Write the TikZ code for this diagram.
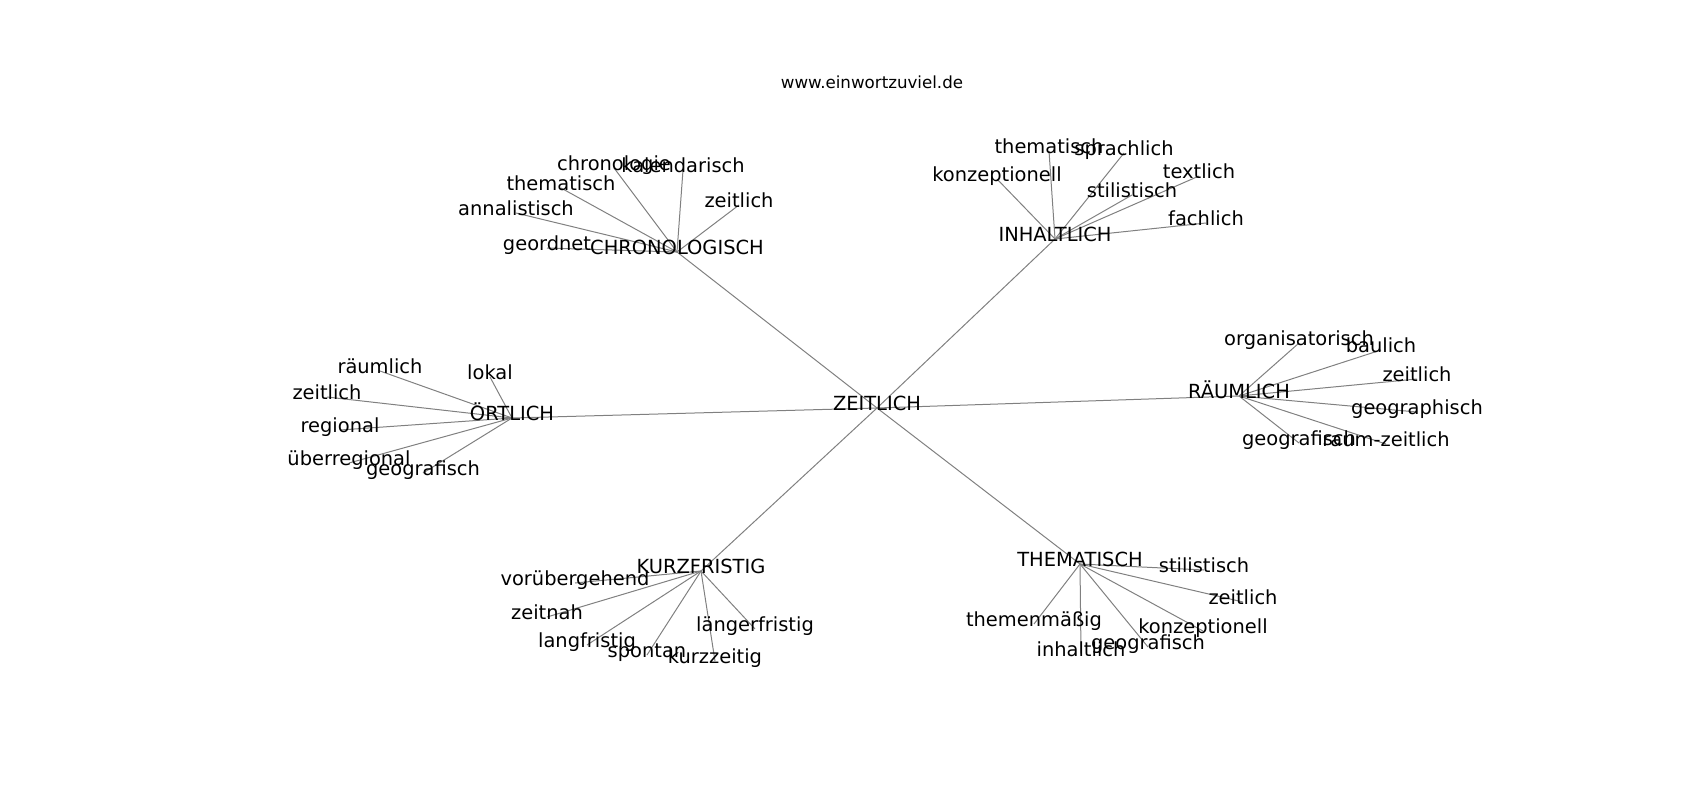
\documentclass[tikz,border=0pt]{standalone}
\usepackage{fontspec}
\setmainfont{DejaVu Sans}
\usetikzlibrary{backgrounds}

\tikzset{
  word/.style={inner sep=0pt, text height=0.76em, text depth=0.21em, font=\fontsize{19.44}{22}\selectfont},
  link/.style={draw=gray, line width=1pt},
}

\begin{document}
\begin{tikzpicture}[x=1pt, y=-1pt]
\useasboundingbox (0,0) rectangle (1700,800);

% title
\node[inner sep=0pt, font=\fontsize{16.67}{19}\selectfont] (title) at (872,82) {www.einwortzuviel.de};

% centre
\node[word] (zeit) at (877,408) {ZEITLICH};

% chronologisch
\node[word] (chr) at (677,252) {CHRONOLOGISCH};
\node[word] (chr1) at (614,168) {chronologie};
\node[word] (chr2) at (683,170) {kalendarisch};
\node[word] (chr3) at (561,188) {thematisch};
\node[word] (chr4) at (739,205) {zeitlich};
\node[word] (chr5) at (516,213) {annalistisch};
\node[word] (chr6) at (547,248) {geordnet};

% inhaltlich
\node[word] (inh) at (1055,239) {INHALTLICH};
\node[word] (inh1) at (1049,151) {thematisch};
\node[word] (inh2) at (1124,153) {sprachlich};
\node[word] (inh3) at (997,179) {konzeptionell};
\node[word] (inh4) at (1199,176) {textlich};
\node[word] (inh5) at (1132,195) {stilistisch};
\node[word] (inh6) at (1206,223) {fachlich};

% oertlich
\node[word] (ort) at (512,418) {ÖRTLICH};
\node[word] (ort1) at (380,371) {räumlich};
\node[word] (ort2) at (490,377) {lokal};
\node[word] (ort3) at (327,397) {zeitlich};
\node[word] (ort4) at (340,430) {regional};
\node[word] (ort5) at (349,463) {überregional};
\node[word] (ort6) at (423,473) {geografisch};

% raeumlich
\node[word] (rau) at (1239,396) {RÄUMLICH};
\node[word] (rau1) at (1299,343) {organisatorisch};
\node[word] (rau2) at (1381,350) {baulich};
\node[word] (rau3) at (1417,379) {zeitlich};
\node[word] (rau4) at (1417,412) {geographisch};
\node[word] (rau5) at (1299,443) {geografisch};
\node[word] (rau6) at (1386,444) {raum-zeitlich};

% kurzfristig
\node[word] (kur) at (701,571) {KURZFRISTIG};
\node[word] (kur1) at (575,583) {vorübergehend};
\node[word] (kur2) at (547,617) {zeitnah};
\node[word] (kur3) at (755,629) {längerfristig};
\node[word] (kur4) at (587,645) {langfristig};
\node[word] (kur5) at (647,655) {spontan};
\node[word] (kur6) at (715,661) {kurzzeitig};

% thematisch
\node[word] (the) at (1080,564) {THEMATISCH};
\node[word] (the1) at (1204,570) {stilistisch};
\node[word] (the2) at (1243,602) {zeitlich};
\node[word] (the3) at (1034,624) {themenmäßig};
\node[word] (the4) at (1203,631) {konzeptionell};
\node[word] (the5) at (1081,654) {inhaltlich};
\node[word] (the6) at (1148,647) {geografisch};

% edges
\begin{pgfonlayer}{background}
\foreach \h in {chr,inh,ort,rau,kur,the}
  \draw[link] (zeit.center) -- (\h.center);
\foreach \h in {chr,inh,ort,rau,kur,the}
  \foreach \i in {1,...,6}
    \draw[link] (\h.center) -- (\h\i.center);
\end{pgfonlayer}
\end{tikzpicture}
\end{document}
